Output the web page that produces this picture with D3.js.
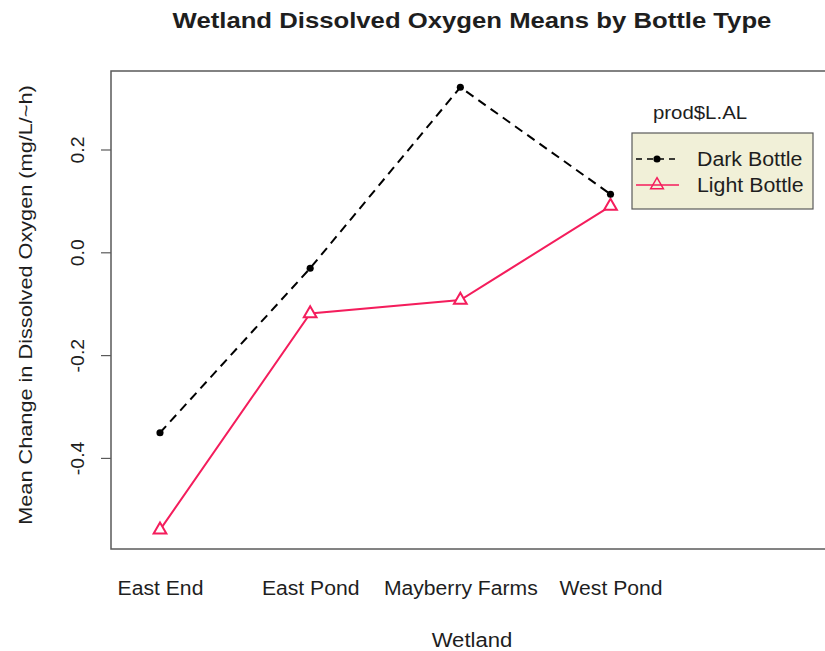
<!DOCTYPE html>
<html>
<head>
<meta charset="utf-8">
<script src="https://cdn.jsdelivr.net/npm/d3@7"></script>
<style>
  html, body { margin: 0; padding: 0; background: #fff; }
  svg { display: block; font-family: "Liberation Sans", Arial, sans-serif; }
</style>
</head>
<body>
<svg id="chart" width="825" height="651"></svg>
<script>
// Wetland sites along the x axis
const wetlands = ["East End", "East Pond", "Mayberry Farms", "West Pond"];
// Mean change in dissolved oxygen (mg/L/h) per bottle type
const darkBottle = [-0.351, -0.031, 0.321, 0.113];
const lightBottle = [-0.540, -0.119, -0.093, 0.090];
const yTicks = [-0.4, -0.2, 0.0, 0.2];
const seriesNames = ["Dark Bottle", "Light Bottle"];

const svg = d3.select("#chart");

const box = { left: 111, top: 71, right: 840, bottom: 549 };

const x = d3.scaleLinear().domain([1, 4]).range([160, 610.5]);
const y = d3.scaleLinear().domain([-0.5772, 0.3527]).range([box.bottom, box.top]);

const darkCol = "#000000";
const lightCol = "#f41d5c";
const textCol = "#1e1e1e";

// Tick numbers with a plain hyphen as the minus sign
const fmt = (d) => d3.format(".1f")(d).replace("\u2212", "-");

// Places a text label with a horizontally widened glyph shape
function label(parent, tx, ty, str, opts) {
  const o = Object.assign({ size: 18, sx: 1.1, anchor: "middle", rot: 0, weight: "normal" }, opts);
  return parent.append("text")
    .attr("transform", `translate(${tx},${ty}) rotate(${o.rot}) scale(${o.sx},1)`)
    .attr("text-anchor", o.anchor)
    .attr("font-size", o.size)
    .attr("font-weight", o.weight)
    .attr("fill", textCol)
    .text(str);
}

// Title
label(svg, 472, 28, "Wetland Dissolved Oxygen Means by Bottle Type",
  { size: 21.6, sx: 1.19, weight: "bold" });

// Plot frame
svg.append("rect")
  .attr("x", box.left).attr("y", box.top)
  .attr("width", box.right - box.left).attr("height", box.bottom - box.top)
  .attr("fill", "none").attr("stroke", "#5a5a5a").attr("stroke-width", 1.5);

// Y axis: outward ticks, rotated labels
const yAxis = d3.axisLeft(y).tickValues(yTicks).tickSize(10).tickFormat(fmt);
const gy = svg.append("g").attr("transform", `translate(${box.left},0)`).call(yAxis);
gy.select(".domain").remove();
gy.selectAll(".tick line").attr("stroke", "#5a5a5a").attr("stroke-width", 1.2);
gy.selectAll(".tick text").remove();
gy.selectAll(".tick").each(function (d) {
  label(d3.select(this), -27, 0, fmt(d), { size: 18.4, sx: 1.06, rot: -90 });
});

// X category labels
const xAxis = d3.axisBottom(x).tickValues([1, 2, 3, 4]).tickSize(0);
const gx = svg.append("g").attr("transform", `translate(0,${box.bottom})`).call(xAxis);
gx.select(".domain").remove();
gx.selectAll(".tick text").remove();
gx.selectAll(".tick").each(function (d) {
  label(d3.select(this), 0, 46, wetlands[d - 1], { size: 19.4, sx: 1.09 });
});

// Axis titles
label(svg, 472, 647, "Wetland", { size: 19.4, sx: 1.14 });
label(svg, 32, 305, "Mean Change in Dissolved Oxygen (mg/L/~h)", { size: 18.4, sx: 1.18, rot: -90 });

const line = d3.line().x((d, i) => x(i + 1)).y((d) => y(d));

// Dark bottle: dashed black line with filled point markers
svg.append("path").datum(darkBottle)
  .attr("d", line).attr("fill", "none")
  .attr("stroke", darkCol).attr("stroke-width", 2)
  .attr("stroke-dasharray", "9,6");

// Light bottle: solid line with open triangles
svg.append("path").datum(lightBottle)
  .attr("d", line).attr("fill", "none")
  .attr("stroke", lightCol).attr("stroke-width", 2);

const tri = d3.symbol().type(d3.symbolTriangle).size(70);
const dot = d3.symbol().type(d3.symbolCircle).size(40);

svg.append("g").selectAll("path").data(lightBottle).join("path")
  .attr("transform", (d, i) => `translate(${x(i + 1)},${y(d)})`)
  .attr("d", tri).attr("fill", "#fff").attr("stroke", lightCol).attr("stroke-width", 2);

svg.append("g").selectAll("path").data(darkBottle).join("path")
  .attr("transform", (d, i) => `translate(${x(i + 1)},${y(d)})`)
  .attr("d", dot).attr("fill", darkCol);

// Legend
const lg = svg.append("g");
label(lg, 700, 119, "prod$L.AL", { size: 18.4, sx: 1.11 });
lg.append("rect").attr("x", 632).attr("y", 133).attr("width", 181).attr("height", 76)
  .attr("fill", "#f1f0d8").attr("stroke", "#5a5a5a").attr("stroke-width", 1.2);

const rows = [
  { name: seriesNames[0], col: darkCol, dash: "6,5", sym: dot, fill: darkCol, y: 159 },
  { name: seriesNames[1], col: lightCol, dash: null, sym: tri, fill: "none", y: 185 }
];
rows.forEach((r) => {
  lg.append("line").attr("x1", 636).attr("x2", 679).attr("y1", r.y).attr("y2", r.y)
    .attr("stroke", r.col).attr("stroke-width", 1.3).attr("stroke-dasharray", r.dash);
  lg.append("path").attr("transform", `translate(657,${r.y})`).attr("d", r.sym)
    .attr("fill", r.fill).attr("stroke", r.fill === "none" ? r.col : null).attr("stroke-width", 1.5);
  label(lg, 697, r.y + 7, r.name, { size: 19.4, sx: 1.1, anchor: "start" });
});
</script>
</body>
</html>
